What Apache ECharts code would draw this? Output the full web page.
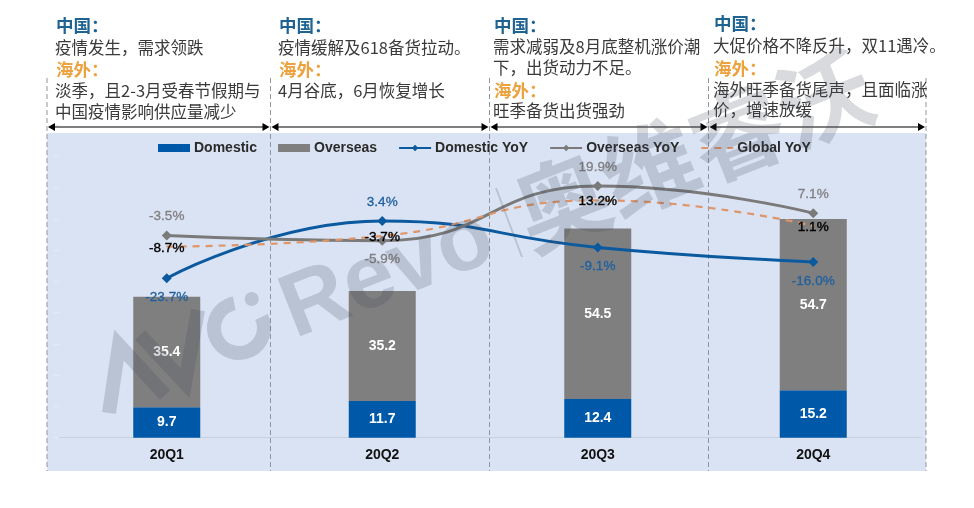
<!DOCTYPE html>
<html><head><meta charset="utf-8">
<style>html,body{margin:0;padding:0;background:#fff}#c{width:974px;height:508px}</style>
<script src="https://cdn.jsdelivr.net/npm/echarts@6/dist/echarts.min.js"></script>
</head><body><div id="c"></div>
<script>
const categories = ['20Q1','20Q2','20Q3','20Q4'];
const domestic = [9.7,11.7,12.4,15.2];
const overseas = [35.4,35.2,54.5,54.7];
const domesticYoY = [-23.7,3.4,-9.1,-16.0];
const overseasYoY = [-3.5,-5.9,19.9,7.1];
const globalYoY = [-8.7,-3.7,13.2,1.1];
const domesticLabelPos = ['bottom','top','bottom','bottom'];
const overseasLabelPos = ['top','bottom','top','top'];
const notes = [
 [['h1','中国：'],['t','疫情发生，需求领跌'],['h2','海外：'],['t','淡季，且2-3月受春节假期与'],['t','中国疫情影响供应量减少']],
 [['h1','中国：'],['t','疫情缓解及618备货拉动。'],['h2','海外：'],['t','4月谷底，6月恢复增长']],
 [['h1','中国：'],['t','需求减弱及8月底整机涨价潮'],['t','下，出货动力不足。'],['h2','海外：'],['t','旺季备货出货强劲']],
 [['h1','中国：'],['t','大促价格不降反升，双11遇冷。'],['h2','海外：'],['t','海外旺季备货尾声，且面临涨'],['t','价，增速放缓']]
];
const noteX = [55,278,493,713];
const noteY = [[25,47.5,69,91,112],[25,47.5,69,91],[25,47,68,90,111],[23,46,68,90,110]];
const dividers = [47,270.5,489.5,708.5,926];

const cjk = '"Noto Sans CJK SC","Liberation Sans",sans-serif';
const latin = '"Liberation Sans",Arial,sans-serif';
const wm = 'rgba(60,70,85,0.2)';
const rot = 21.5*Math.PI/180;
const g = [];
g.push({type:'rect',z:0,shape:{x:47,y:133,width:879,height:338},style:{fill:'#dae3f3'}});
dividers.forEach(x=>g.push({type:'line',z:1,shape:{x1:x,y1:78,x2:x,y2:471},style:{stroke:'#8f959e',lineWidth:1,lineDash:[5,3]}}));
for(let i=0;i<4;i++){
  const a=dividers[i]+1,b=dividers[i+1]-1,y=127;
  g.push({type:'line',z:3,shape:{x1:a+3,y1:y,x2:b-3,y2:y},style:{stroke:'#000',lineWidth:1.2}});
  g.push({type:'polygon',z:3,shape:{points:[[a,y],[a+7,y-4],[a+7,y+4]]},style:{fill:'#000'}});
  g.push({type:'polygon',z:3,shape:{points:[[b,y],[b-7,y-4],[b-7,y+4]]},style:{fill:'#000'}});
}
notes.forEach((col,c)=>col.forEach((ln,i)=>{
  const head=ln[0]!=='t';
  g.push({type:'text',z:4,x:noteX[c]+(head?1:0),y:noteY[c][i],style:{
    text:ln[1],textVerticalAlign:'middle',textAlign:'left',
    font:(head?'bold 17.5px ':'16.5px ')+cjk,
    fill:ln[0]==='h1'?'#1f6391':ln[0]==='h2'?'#eca23f':'#3a3a3a'}});
}));
// watermark (decoration)
g.push({type:'polyline',z:100,silent:true,shape:{points:[[109,413],[119,345],[165,395]]},style:{stroke:wm,fill:null,lineWidth:14,lineJoin:'miter'}});
g.push({type:'polyline',z:100,silent:true,shape:{points:[[140,335],[185,383],[198,310]]},style:{stroke:wm,fill:null,lineWidth:14,lineJoin:'miter'}});
g.push({type:'arc',z:100,silent:true,shape:{cx:239,cy:328,r:25,startAngle:-26*Math.PI/180,endAngle:259*Math.PI/180,clockwise:true},style:{stroke:wm,fill:null,lineWidth:14}});
g.push({type:'circle',z:100,silent:true,shape:{cx:251.7,cy:299,r:7},style:{fill:wm}});
g.push({type:'text',z:100,silent:true,x:388,y:275,rotation:rot,style:{
  text:'Revo',textAlign:'center',textVerticalAlign:'middle',font:'bold 90px '+latin,fill:wm}});
g.push({type:'line',z:100,silent:true,shape:{x1:496,y1:188,x2:522,y2:257},style:{stroke:wm,lineWidth:2}});
g.push({type:'text',z:100,silent:true,x:693,y:150,rotation:rot,style:{
  text:'奥维睿沃',textAlign:'center',textVerticalAlign:'middle',font:'bold 94px '+cjk,fill:wm}});

const barLabel={show:true,position:'inside',color:'#fff',fontFamily:latin,fontWeight:'bold',fontSize:14};
const pct=v=>v.value.toFixed(1)+'%';
const option={
  animation:false,
  graphic:g,
  legend:{left:153,top:136,itemGap:21,itemWidth:32,itemHeight:8,
    textStyle:{fontFamily:latin,fontSize:14,fontWeight:'bold',color:'#2a2a2a',padding:[0,0,0,-1]},
    data:[{name:'Domestic',icon:'rect'},{name:'Overseas',icon:'rect'},
      {name:'Domestic YoY'},{name:'Overseas YoY'},{name:'Global YoY',itemStyle:{opacity:0}}]},
  grid:{left:59,right:53,top:125,height:312.7},
  xAxis:{type:'category',data:categories,axisTick:{show:false},
    axisLine:{lineStyle:{color:'#c8d0dc'}},
    axisLabel:{fontFamily:latin,fontWeight:'bold',fontSize:14,color:'#111',margin:10}},
  yAxis:[
    {type:'value',min:0,max:100,interval:10,axisLabel:{show:false},splitLine:{show:false},
      axisLine:{show:false},axisTick:{show:true,length:5,lineStyle:{color:'#e6ecf6'}}},
    {type:'value',min:-99.1,max:48.8,show:false,splitLine:{show:false}}
  ],
  series:[
    {name:'Domestic',type:'bar',stack:'a',barWidth:67,data:domestic,itemStyle:{color:'#0058a8'},label:barLabel},
    {name:'Overseas',type:'bar',stack:'a',barWidth:67,data:overseas,itemStyle:{color:'#7f7f7f'},label:barLabel},
    {name:'Domestic YoY',type:'line',yAxisIndex:1,smooth:0.5,data:domesticYoY.map((v,i)=>({value:v,label:{position:domesticLabelPos[i]}})),
      symbol:'diamond',symbolSize:10,lineStyle:{color:'#0b5a9f',width:3},itemStyle:{color:'#0b5a9f'},
      label:{show:true,distance:7,formatter:pct,color:'#1f5f9f',fontFamily:latin,fontSize:13.5,textBorderColor:'#1f5f9f',textBorderWidth:0.3}},
    {name:'Overseas YoY',type:'line',yAxisIndex:1,smooth:0.5,data:overseasYoY.map((v,i)=>({value:v,label:{position:overseasLabelPos[i]}})),
      symbol:'diamond',symbolSize:10,lineStyle:{color:'#7a7a7a',width:3},itemStyle:{color:'#7a7a7a'},
      label:{show:true,distance:7,formatter:pct,color:'#7f7f7f',fontFamily:latin,fontSize:13.5,textBorderColor:'#7f7f7f',textBorderWidth:0.3}},
    {name:'Global YoY',type:'line',yAxisIndex:1,smooth:0.5,data:globalYoY,
      symbol:'circle',symbolSize:1,lineStyle:{color:'#df9568',width:2.2,type:[7,6]},itemStyle:{color:'#df9568'},
      label:{show:true,position:'inside',offset:[0,1.5],formatter:pct,color:'#000',fontFamily:latin,fontSize:13.5,textBorderColor:'#000',textBorderWidth:0.4}}
  ]
};
echarts.init(document.getElementById('c'),null,{renderer:'canvas'}).setOption(option);
</script></body></html>
